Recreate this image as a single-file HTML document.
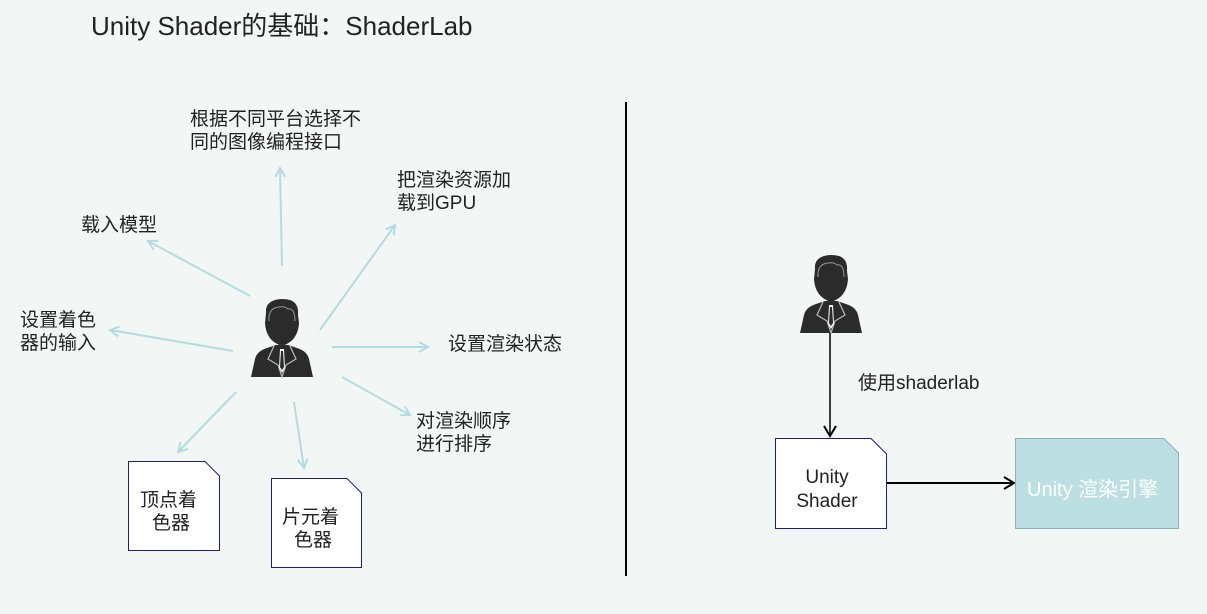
<!DOCTYPE html>
<html><head><meta charset="utf-8"><style>
html,body{margin:0;padding:0;background:#f2f7f6;}
svg{display:block;}
text{font-family:"Liberation Sans","Noto Sans CJK SC",sans-serif;fill:#222;}
</style></head><body>
<svg width="1207" height="614" viewBox="0 0 1207 614" xmlns="http://www.w3.org/2000/svg">
<defs>
<marker id="ta" markerWidth="12" markerHeight="12" refX="10" refY="6" orient="auto" markerUnits="userSpaceOnUse">
<path d="M1,1 L10,6 L1,11" fill="none" stroke="#b3dcdf" stroke-width="2"/></marker>
<marker id="ba" markerWidth="14" markerHeight="14" refX="11" refY="7" orient="auto" markerUnits="userSpaceOnUse">
<path d="M1,1 L11,7 L1,13" fill="none" stroke="#000" stroke-width="2"/></marker>
<g id="person">
<path d="M-31,64 L-27,46 Q-25,38 -15,35 L-6,32 L6,32 L15,35 Q25,38 27,46 L31,64 Z" fill="#2b2b2b"/>
<path d="M-16,0 Q-17,-10 -7,-13 Q0,-15 8,-13 Q17,-10 16,2 L17,10 Q16,28 0,33 Q-16,28 -17,10 Z" fill="#2b2b2b"/>
<path d="M-13,8 Q-14,-5 -3,-6 Q3,-7 6,-4 Q13,-5 13,8" fill="none" stroke="#999" stroke-width="1"/>
<path d="M-8,33 L-14,46 L-4,52 L0,64 L4,52 L14,46 L8,33" fill="none" stroke="#bbb" stroke-width="1.2"/>
<path d="M-2,36 L2,36 L3,55 L0,60 L-3,55 Z" fill="#f2f7f6"/>
<path d="M-1,38 L1,38 L2,54 L0,57 L-2,54 Z" fill="#2b2b2b"/>
</g>
</defs>
<text x="91" y="35" font-size="26">Unity Shader的基础：ShaderLab</text>

<g stroke="#b3dcdf" stroke-width="2" fill="none" marker-end="url(#ta)">
<line x1="282" y1="266" x2="280" y2="168"/>
<line x1="250" y1="296" x2="148" y2="241"/>
<line x1="233" y1="351" x2="110" y2="330"/>
<line x1="320" y1="330" x2="395" y2="225"/>
<line x1="332" y1="347" x2="428" y2="347"/>
<line x1="342" y1="377" x2="410" y2="415"/>
<line x1="236" y1="392" x2="178" y2="452"/>
<line x1="294" y1="402" x2="304" y2="468"/>
</g>
<use href="#person" x="282" y="313"/>
<use href="#person" x="831" y="269"/>

<g font-size="19">
<text x="190" y="125">根据不同平台选择不</text>
<text x="190" y="148">同的图像编程接口</text>
<text x="397" y="186">把渲染资源加</text>
<text x="397" y="209">载到GPU</text>
<text x="81" y="231">载入模型</text>
<text x="20" y="326">设置着色</text>
<text x="20" y="349">器的输入</text>
<text x="448" y="350">设置渲染状态</text>
<text x="416" y="427">对渲染顺序</text>
<text x="416" y="450">进行排序</text>
<text x="858" y="389">使用shaderlab</text>
</g>

<path d="M128.5,461.5 H205 L219.5,476 V550.5 H128.5 Z" fill="#fff" stroke="#1b1b8a" stroke-width="1"/>
<text x="140" y="506" font-size="19">顶点着</text>
<text x="152" y="529" font-size="19">色器</text>
<path d="M271.5,478.5 H347 L361.5,493 V567.5 H271.5 Z" fill="#fff" stroke="#1b1b8a" stroke-width="1"/>
<text x="282" y="523" font-size="19">片元着</text>
<text x="294" y="546" font-size="19">色器</text>

<line x1="626" y1="102" x2="626" y2="576" stroke="#000" stroke-width="2"/>

<line x1="830" y1="333" x2="830" y2="436" stroke="#000" stroke-width="1.5" marker-end="url(#ba)"/>
<path d="M775.5,438.5 H871 L886.5,454 V528.5 H775.5 Z" fill="#fff" stroke="#1b1b8a" stroke-width="1"/>
<text x="827" y="483" font-size="19" text-anchor="middle">Unity</text>
<text x="827" y="507" font-size="19" text-anchor="middle">Shader</text>
<line x1="887" y1="483" x2="1014" y2="483" stroke="#000" stroke-width="2" marker-end="url(#ba)"/>
<path d="M1015.5,438.5 H1164 L1178.5,453 V528.5 H1015.5 Z" fill="#bbdfe2" stroke="#8fb0b2" stroke-width="1"/>
<text x="1027" y="496" font-size="20" style="fill:#fff">Unity 渲染引擎</text>
</svg>
</body></html>
